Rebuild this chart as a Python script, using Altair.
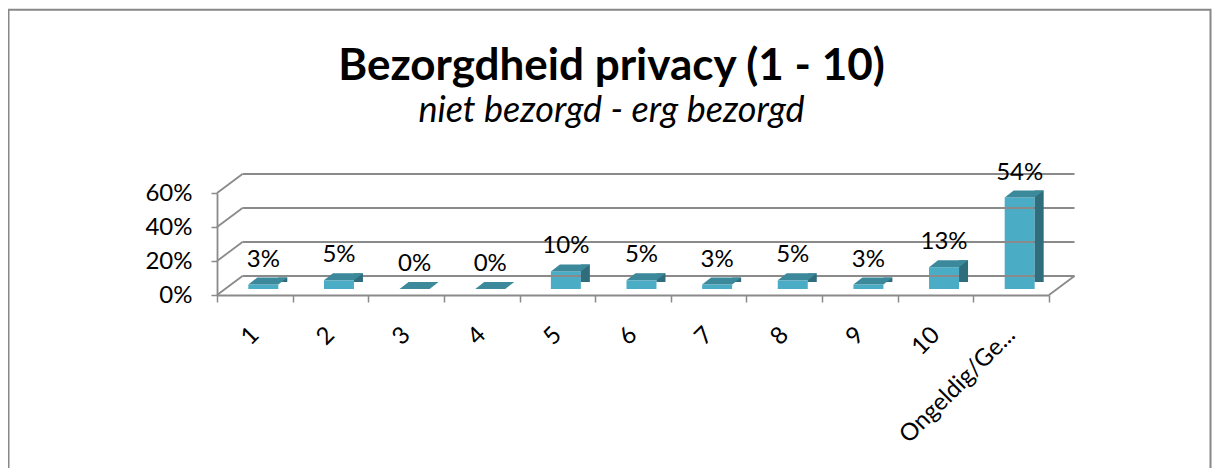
import altair as alt
import pandas as pd

# ---- data ----
categories = ["1", "2", "3", "4", "5", "6", "7", "8", "9", "10", "Ongeldig/Ge..."]
values = [0.026, 0.051, 0.0, 0.0, 0.103, 0.051, 0.026, 0.051, 0.026, 0.128, 0.538]
y_ticks = [0.0, 0.2, 0.4, 0.6]
title_text = "Bezorgdheid privacy (1 - 10)"
subtitle_text = "niet bezorgd - erg bezorgd"

# ---- styling ----
FONT = "Lato"
FRONT = "#4bacc6"
TOP = "#3b899b"
SIDE = "#2f6d7d"
GRID = "#8a8a8a"
W, H = 832, 102          # front plane of the plot area
DX, DY = 25.5, -19       # 3-D depth of back wall
BX, BY = 8.5, -6         # bar placement inside the depth
BW, BDX, BDY = 30, 9, -7 # bar width and bar depth

bars = pd.DataFrame({"cat": categories, "val": values})
grid = pd.DataFrame({"val": y_ticks})
zero = pd.DataFrame({"val": [0.0]})

yscale = alt.Scale(domain=[0, 0.6], nice=False, zero=True)
yaxis = alt.Axis(title=None, values=y_ticks, format=".0%", labelFont=FONT,
                 labelFontSize=24, labelColor="black", tickSize=6,
                 tickColor=GRID, tickWidth=1.5, domainColor=GRID,
                 domainWidth=1.8, labelPadding=19, grid=False,
                 labelOverlap=False)
xaxis = alt.Axis(title=None, labelAngle=-45, labelAlign="right",
                 labelBaseline="middle", labelFont=FONT, labelFontSize=24,
                 labelColor="black", tickBand="extent", tickSize=7,
                 tickColor=GRID, tickWidth=1.5, domainColor=GRID,
                 domainWidth=1.8, labelPadding=29, grid=False,
                 labelOverlap=False)

xs = alt.X("cat:N", sort=categories,
           scale=alt.Scale(paddingInner=0, paddingOuter=0), axis=xaxis)
ys = alt.Y("val:Q", scale=yscale, axis=yaxis)

frame = alt.Chart(zero).mark_rect(fill=None, stroke="#888888", strokeWidth=2).encode(
    x=alt.value(-208.5), x2=alt.value(993.5), y=alt.value(-183.3), y2=alt.value(400))

back_grid = alt.Chart(grid).mark_rule(color=GRID, strokeWidth=1.8, yOffset=DY).encode(
    y=ys, x=alt.value(DX), x2=alt.value(W + DX))

left_diag = alt.Chart(grid).mark_rule(color=GRID, strokeWidth=1.8, y2Offset=DY).encode(
    y=ys, y2="val:Q", x=alt.value(0), x2=alt.value(DX))

right_diag = alt.Chart(zero).mark_rule(color=GRID, strokeWidth=1.8, y2Offset=DY).encode(
    y=ys, y2="val:Q", x=alt.value(W), x2=alt.value(W + DX))

base = alt.Chart(bars)

front = base.mark_bar(width=BW, xOffset=BX, yOffset=BY, y2Offset=BY,
                      color=FRONT).encode(x=xs, y=ys)
side = base.mark_bar(width=BDX, xOffset=BX + BW / 2 + BDX / 2, yOffset=BY + BDY,
                     y2Offset=BY, color=SIDE).encode(x=xs, y=ys)
cover = base.transform_calculate(val="0").mark_point(
    shape="M 0 0.6 L 9.6 0.6 L 9.6 -7.6 Z", size=4, filled=True,
    opacity=1, strokeWidth=0, color="white",
    xOffset=BX + BW / 2, yOffset=BY).encode(x=xs, y=ys)
top = base.mark_point(shape="M -15 0 L 15 0 L 24 -7 L -6 -7 Z", size=4, filled=True,
                      opacity=1, strokeWidth=0, color=TOP,
                      xOffset=BX, yOffset=BY).encode(x=xs, y=ys)
labels = base.mark_text(font=FONT, fontSize=24, color="black", align="center",
                        baseline="alphabetic", xOffset=BX, yOffset=BY - 18).encode(
    x=xs, y=ys, text=alt.Text("val:Q", format=".0%"))

t_df = pd.DataFrame({"t": [title_text]})
s_df = pd.DataFrame({"t": [subtitle_text]})
title = alt.Chart(t_df).mark_text(font=FONT, fontSize=44, fontWeight="bold",
                                  color="black", align="center",
                                  baseline="alphabetic").encode(
    text="t:N", x=alt.value(394.5), y=alt.value(-113))
subtitle = alt.Chart(s_df).mark_text(font=FONT, fontSize=36, fontStyle="italic",
                                     color="black", align="center",
                                     baseline="alphabetic").encode(
    text="t:N", x=alt.value(394.5), y=alt.value(-71))

chart = alt.layer(front, frame, back_grid, left_diag, right_diag, side, cover, top,
                  labels, title, subtitle).properties(
    width=W, height=H,
    autosize=alt.AutoSizeParams(type="none"),
    padding={"left": 209, "top": 185, "right": 163, "bottom": 173},
    background="white",
).configure_view(strokeWidth=0)

chart.save("out.html", embed_options={"renderer": "svg", "actions": False})
